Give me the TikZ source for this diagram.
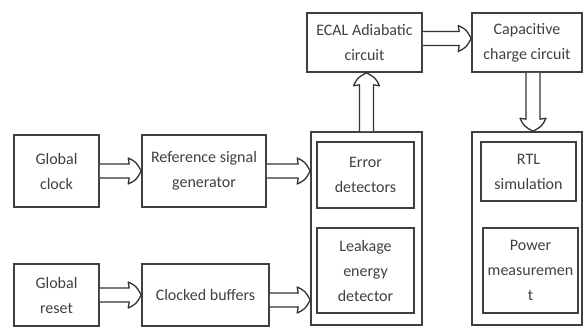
\documentclass[tikz,border=0pt]{standalone}
\usepackage{fontspec}
\setmainfont{Carlito}
\usetikzlibrary{calc}
\begin{document}
\begin{tikzpicture}[x=1pt, y=-1pt,
  blk/.style={draw=black!75, line width=1.6pt, rectangle, align=center, text=black!75,
    font=\fontsize{16}{25}\selectfont, inner sep=0pt},
  flow/.style={draw=black!80, fill=white, line width=1.3pt, line join=round,
    to path={
      ($(\tikztostart)!7pt!90:(\tikztotarget)$)
      -- ($($(\tikztotarget)!12pt!(\tikztostart)$)!7pt!90:(\tikztotarget)$)
      -- ($($(\tikztotarget)!13pt!(\tikztostart)$)!13pt!90:(\tikztotarget)$)
      .. controls ($($(\tikztotarget)!5pt!(\tikztostart)$)!9pt!90:(\tikztotarget)$) .. (\tikztotarget)
      .. controls ($($(\tikztotarget)!5pt!(\tikztostart)$)!9pt!-90:(\tikztotarget)$) .. ($($(\tikztotarget)!13pt!(\tikztostart)$)!13pt!-90:(\tikztotarget)$)
      -- ($($(\tikztotarget)!12pt!(\tikztostart)$)!7pt!-90:(\tikztotarget)$)
      -- ($(\tikztostart)!7pt!-90:(\tikztotarget)$)
    }}]
\useasboundingbox (0,0) rectangle (584,327);
% outer containers
\node[blk, minimum width=111pt, minimum height=193pt] (detL) at (366.5,228.5) {};
\node[blk, minimum width=110pt, minimum height=193pt] (detR) at (527,228.5) {};
% blocks
\node[blk, minimum width=85pt, minimum height=72pt] (clk) at (56.5,171) {Global\\clock};
\node[blk, minimum width=124pt, minimum height=72pt] (ref) at (204,171) {Reference signal\\generator};
\node[blk, minimum width=85pt, minimum height=62pt] (rst) at (56.5,295) {Global\\reset};
\node[blk, minimum width=127pt, minimum height=62pt] (buf) at (205.5,295) {Clocked buffers};
\node[blk, minimum width=115pt, minimum height=59pt] (ecal) at (364.5,42.5) {ECAL Adiabatic\\circuit};
\node[blk, minimum width=110pt, minimum height=59pt] (cap) at (527,42.5) {Capacitive\\charge circuit};
\node[blk, minimum width=97pt, minimum height=66pt] (err) at (365.5,175) {Error\\detectors};
\node[blk, minimum width=97pt, minimum height=85pt] (leak) at (365.5,270.5) {Leakage\\energy\\detector};
\node[blk, minimum width=95pt, minimum height=59pt] (rtl) at (528.5,171.5) {RTL\\simulation};
\node[blk, minimum width=95pt, minimum height=85pt] (pow) at (530.5,270.5) {Power\\measuremen\\t};
% connectors
\coordinate (bufout) at ([yshift=-5pt]buf.east);
\coordinate (ecalout) at ([yshift=4pt]ecal.east);
\coordinate (capout) at ([xshift=6pt]cap.south);
\draw[flow] (clk.east) to (ref.west);
\draw[flow] (ref.east) to (ref.east -| detL.west);
\draw[flow] (rst.east) to (buf.west);
\draw[flow] (bufout) to (bufout -| detL.west);
\draw[flow] (detL.north) to (detL.north |- ecal.south);
\draw[flow] (ecalout) to (ecalout -| cap.west);
\draw[flow] (capout) to (capout |- detR.north);
\end{tikzpicture}
\end{document}
